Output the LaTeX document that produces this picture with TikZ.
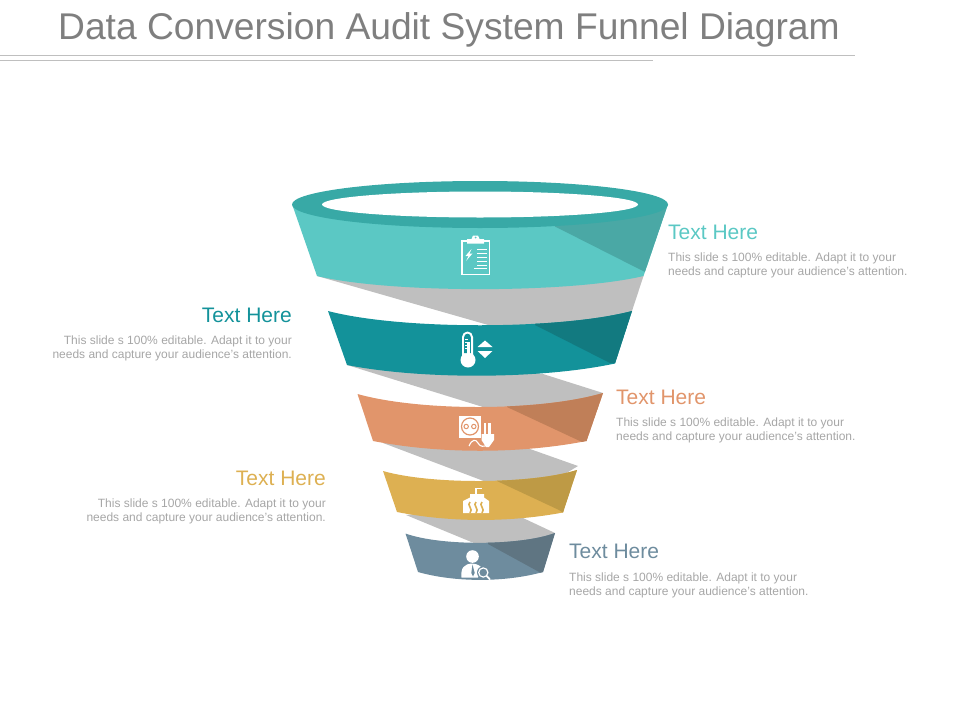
\documentclass[tikz,border=0pt]{standalone}
\usepackage{fontspec}
\setmainfont{Liberation Sans}
\definecolor{tealone}{HTML}{5BC8C4}
\definecolor{tealrim}{HTML}{38A9A6}
\definecolor{tealonedark}{HTML}{4AA8A5}
\definecolor{tealtwo}{HTML}{13929A}
\definecolor{tealtwodark}{HTML}{127A80}
\definecolor{orangeband}{HTML}{E1956B}
\definecolor{orangedark}{HTML}{C07F58}
\definecolor{goldband}{HTML}{DDB052}
\definecolor{golddark}{HTML}{BE9A45}
\definecolor{slateband}{HTML}{6E8C9E}
\definecolor{slatedark}{HTML}{5F7582}
\definecolor{twistgray}{HTML}{BFBFBF}
\definecolor{bodygray}{HTML}{A6A6A6}
\definecolor{titlegray}{HTML}{7F7F7F}
\tikzset{
	headleft/.style={anchor=east, inner sep=0pt, font=\fontsize{21}{24}\selectfont},
	headright/.style={anchor=west, inner sep=0pt, font=\fontsize{21}{24}\selectfont},
	bodyleft/.style={anchor=north east, align=right, inner sep=0pt, text=bodygray, font=\fontsize{12}{14.2}\selectfont},
	bodyright/.style={anchor=north west, align=left, inner sep=0pt, text=bodygray, font=\fontsize{12}{14.2}\selectfont},
	rule/.style={color=twistgray, line width=0.9pt}
}
\def\bodytext{This slide s 100\% editable. Adapt it to your\\needs and capture your audience's attention.}
\def\funnelband#1#2#3#4{%
	\begin{scope}
		\clip #3;
		\fill[#1] (0,0) rectangle (960,720);
		\fill[#2] #4;
	\end{scope}}

\begin{document}
\begin{tikzpicture}[x=1pt, y=-1pt]
		%%%%% START %%%%%
		\useasboundingbox (0,0) rectangle (960,720);
		
		\node[anchor=west, inner sep=0pt, text=titlegray, font=\fontsize{37.2}{40}\selectfont] (title) at (58, 29.5) {Data Conversion Audit System Funnel Diagram};
		\draw[rule] (0, 55) -- (855, 55);
		\draw[rule] (0, 60.5) -- (653, 60.5);
		
		% gray twists
		\fill[twistgray] (317, 276) -- (490, 325.5) -- (600, 327) -- (632, 311) -- (643.5, 276) -- (500, 270) -- cycle;
		\fill[twistgray] (347, 365) -- (483, 407) -- (580, 408) -- (603, 393) -- (543, 374) -- (450, 360) -- cycle;
		\fill[twistgray] (383, 443) -- (485, 481.5) -- (550, 483) -- (578, 466) -- (530, 449) -- (450, 440) -- cycle;
		\fill[twistgray] (406, 515) -- (475, 543.5) -- (530, 545) -- (555, 533) -- (523, 518) -- (450, 510) -- cycle;
		
		% bands
		\funnelband{tealone}{tealonedark}
			{(292, 204) -- (668, 204) -- (643.5, 276) .. controls (570, 293.5) and (390, 293.5) .. (317, 276) -- cycle}
			{(555, 226.5) -- (645, 272) -- (680, 272) -- (680, 195) -- (555, 195) -- cycle}
		\funnelband{tealtwo}{tealtwodark}
			{(328, 311) .. controls (400, 330) and (560, 330) .. (632, 311) -- (615, 363.5) .. controls (540, 379.5) and (420, 379.5) .. (347, 365) -- cycle}
			{(535, 325) -- (610, 363) -- (640, 363) -- (640, 300) -- (535, 300) -- cycle}
		\funnelband{orangeband}{orangedark}
			{(357.5, 394) .. controls (420, 411.5) and (540, 411.5) .. (603, 393) -- (586.5, 441) .. controls (520, 454) and (440, 454) .. (373, 441) -- cycle}
			{(507, 407) -- (582, 442) -- (610, 442) -- (610, 385) -- (507, 385) -- cycle}
		\funnelband{goldband}{golddark}
			{(383, 471) .. controls (430, 484.5) and (530, 484.5) .. (577, 470) -- (563, 512.5) .. controls (510, 522.5) and (450, 522.5) .. (397, 512) -- cycle}
			{(497, 481) -- (559, 510) -- (565, 514) -- (585, 514) -- (585, 465) -- (497, 465) -- cycle}
		\funnelband{slateband}{slatedark}
			{(405.5, 533.5) .. controls (440, 546) and (520, 546) .. (555, 533) -- (543, 572) .. controls (505, 582.5) and (455, 582.5) .. (418, 572) -- cycle}
			{(488, 544) -- (541, 573) -- (560, 573) -- (560, 525) -- (488, 525) -- cycle}
		
		% rim of the funnel
		\fill[tealrim] (480, 204.5) ellipse (188 and 23.5);
		\fill[white] (480, 204.5) ellipse (158 and 13);
		
		% clipboard
		\draw[white, line width=1.8pt] (462, 241) rectangle (489.5, 274.5);
		\fill[white] (467, 243.5) -- (467, 239) -- (471.5, 239) -- (473, 235.5) -- (478, 235.5) -- (479.5, 239) -- (484, 239) -- (484, 243.5) -- cycle;
		\fill[tealone] (475.5, 237.5) circle (1);
		\fill[white] (471.5, 249) -- (465.5, 256) -- (468.5, 256) -- (466, 261) -- (472.5, 253.5) -- (469.5, 253.5) -- cycle;
		\foreach \ruley in {249, 253, 257, 261, 265}
			\draw[white, line width=1pt] (477, \ruley) -- (487, \ruley);
		\draw[white, line width=1pt] (474, 268.5) -- (487, 268.5);
		
		% thermometer
		\fill[white] (468, 360) circle (7.5);
		\fill[white] (462, 360) -- (462, 337) arc (180:360:5.5) -- (473, 360) -- cycle;
		\fill[tealtwo] (464.2, 353) -- (464.2, 337) arc (180:360:3.3) -- (470.8, 353) -- cycle;
		\fill[white] (466.5, 342) rectangle (469.5, 356);
		\foreach \ticky in {339, 342, 345, 348}
			\draw[white, line width=0.8pt] (465, \ticky) -- (468, \ticky);
		\fill[white] (485, 340.5) -- (492.5, 347) -- (477.5, 347) -- cycle;
		\fill[white] (485, 358) -- (492.5, 351) -- (477.5, 351) -- cycle;
		
		% socket and plug
		\fill[white] (459, 416) rectangle (481, 437.5);
		\draw[orangeband, line width=1.2pt] (470, 426.5) circle (8.5);
		\draw[orangeband, line width=1pt] (466.2, 426.5) circle (2.2);
		\draw[orangeband, line width=1pt] (473.8, 426.5) circle (2.2);
		\fill[white] (483.5, 423) rectangle (486, 435);
		\fill[white] (488, 423) rectangle (490.5, 435);
		\fill[white] (481.5, 434) -- (494, 434) -- (494, 440) -- (489, 447) -- (486, 447) -- (481.5, 440) -- cycle;
		\draw[white, line width=1.1pt] (469, 446) .. controls (472, 439) and (476, 439) .. (478, 443) .. controls (480, 447) and (484, 447) .. (487, 445);
		
		% factory
		\fill[white] (463, 513) -- (463, 501) -- (470, 497.5) -- (470, 494) -- (484, 494) -- (484, 497.5) -- (489, 501) -- (489, 513) -- cycle;
		\draw[white, line width=1.2pt] (476, 494) -- (476, 488.5) -- (482, 488.5);
		\foreach \wavex in {470, 476, 482}
			\draw[goldband, line width=1.6pt] (\wavex, 502) .. controls (\wavex-4, 505) and (\wavex+4, 509) .. (\wavex, 513);
		
		% person and magnifier
		\fill[white] (472.5, 556.5) circle (6.3);
		\fill[white] (461.5, 577.5) .. controls (460.5, 568) and (464, 564) .. (472, 563.5) .. controls (478, 564) and (481, 566) .. (482, 569) -- (478, 577.5) -- cycle;
		\fill[slateband] (472.5, 564.5) -- (471.3, 573) -- (473, 576.5) -- (474.7, 573) -- cycle;
		\fill[slateband] (483.3, 572.5) circle (6.3);
		\draw[white, line width=1.2pt] (483.3, 572.5) circle (4.6);
		\draw[white, line width=1.7pt] (486.7, 576) -- (490, 579.5);
		
		% labels
		\node[headright, text=tealone] (headone) at (668, 232) {Text Here};
		\node[bodyright] (bodyone) at (668, 252.5) {\bodytext};
		\node[headleft, text=tealtwo] (headtwo) at (292, 315) {Text Here};
		\node[bodyleft] (bodytwo) at (292, 335.5) {\bodytext};
		\node[headright, text=orangeband] (headthree) at (616, 397) {Text Here};
		\node[bodyright] (bodythree) at (616, 417.5) {\bodytext};
		\node[headleft, text=goldband] (headfour) at (326, 478) {Text Here};
		\node[bodyleft] (bodyfour) at (326, 498.5) {\bodytext};
		\node[headright, text=slateband] (headfive) at (569, 551) {Text Here};
		\node[bodyright] (bodyfive) at (569, 572.5) {\bodytext};
		
		%%%%% END %%%%%
	\end{tikzpicture}
\end{document}
